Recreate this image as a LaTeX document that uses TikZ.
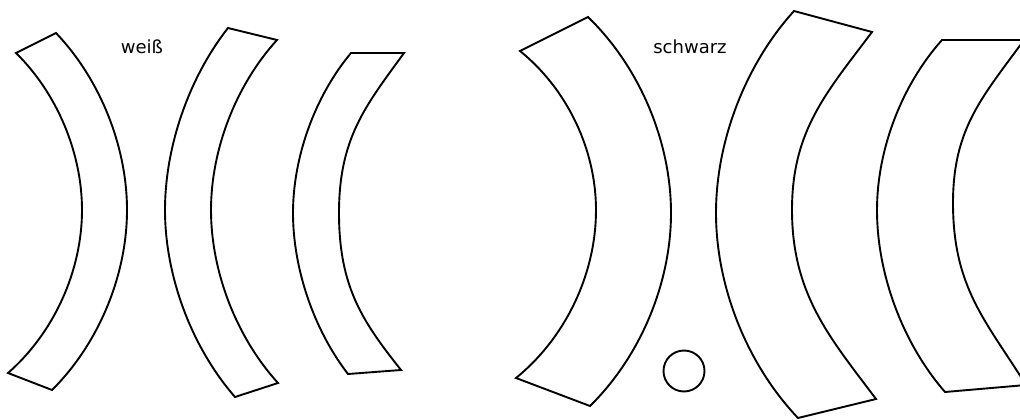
\documentclass[tikz,border=0pt]{standalone}
\usepackage{fontspec}
\setmainfont{DejaVu Sans}
\usepackage{tikz}
\usetikzlibrary{positioning}
\tikzstyle{piece} = [draw=black, line width=1.9pt, line join=miter]
\tikzstyle{tag} = [font=\fontsize{18}{21}\selectfont, inner sep=0pt]
\tikzstyle{ball} = [circle, draw=black, line width=1.9pt, minimum size=41pt, inner sep=0pt]

\begin{document}
\begin{tikzpicture}[x=1pt, y=-1pt]
    \useasboundingbox (0,0) rectangle (1020,420);
    \clip (0,0) rectangle (1020,420);

    % Labels
    \node[tag] (weiss) at (142,47) {weiß};
    \node[tag] (schwarz) at (690,47) {schwarz};

    % weiss: first piece
    \draw[piece] (16,53) .. controls (56.9,93.1) and (82,152.7) .. (82,210)
        .. controls (82,270.9) and (53.9,332.9) .. (8,373)
        -- (52,390) .. controls (98.5,343.9) and (127,275.5) .. (127,210)
        .. controls (127,146.3) and (100,79.1) .. (56,33) -- cycle;

    % weiss: second piece
    \draw[piece] (228,28) .. controls (188.9,77.7) and (165,146.8) .. (165,210)
        .. controls (165,276.1) and (191.6,347.2) .. (235,397)
        -- (278,383) .. controls (236.5,337.4) and (211,271.7) .. (211,210)
        .. controls (211,149.4) and (236.1,84.8) .. (277,40) -- cycle;

    % weiss: third piece
    \draw[piece] (351,53) .. controls (315,96.1) and (293,156.9) .. (293,213)
        .. controls (293,268.7) and (313.9,329.9) .. (348,374)
        -- (401,370) .. controls (362.6,321.6) and (339,287) .. (339,213)
        .. controls (339,138) and (365.7,105.7) .. (404,53) -- cycle;

    % schwarz: first piece
    \draw[piece] (520,51) .. controls (567.1,89) and (596,149.4) .. (596,210)
        .. controls (596,273.9) and (565.6,337.7) .. (516,378)
        -- (590,406) .. controls (640.2,356.7) and (671,283.4) .. (671,213)
        .. controls (671,141.3) and (639.5,66.8) .. (588,17) -- cycle;

    % schwarz: ball
    \node[ball] (dot) at (684,371) {};

    % schwarz: second piece
    \draw[piece] (794,11) .. controls (745.6,64.3) and (716,141) .. (716,213)
        .. controls (716,286.7) and (747.2,364.6) .. (798,418)
        -- (876,399) .. controls (831,339) and (792,295) .. (792,210)
        .. controls (792,130) and (827,92) .. (872,32) -- cycle;

    % schwarz: third piece (runs off the edge)
    \draw[piece] (942,40) .. controls (901.7,85) and (877,149.6) .. (877,210)
        .. controls (877,274.3) and (902.8,343.5) .. (945,392)
        -- (1026,385) .. controls (986.3,321.3) and (953,288) .. (953,203)
        .. controls (953,128) and (982.7,96.7) .. (1024,40) -- cycle;
\end{tikzpicture}
\end{document}
